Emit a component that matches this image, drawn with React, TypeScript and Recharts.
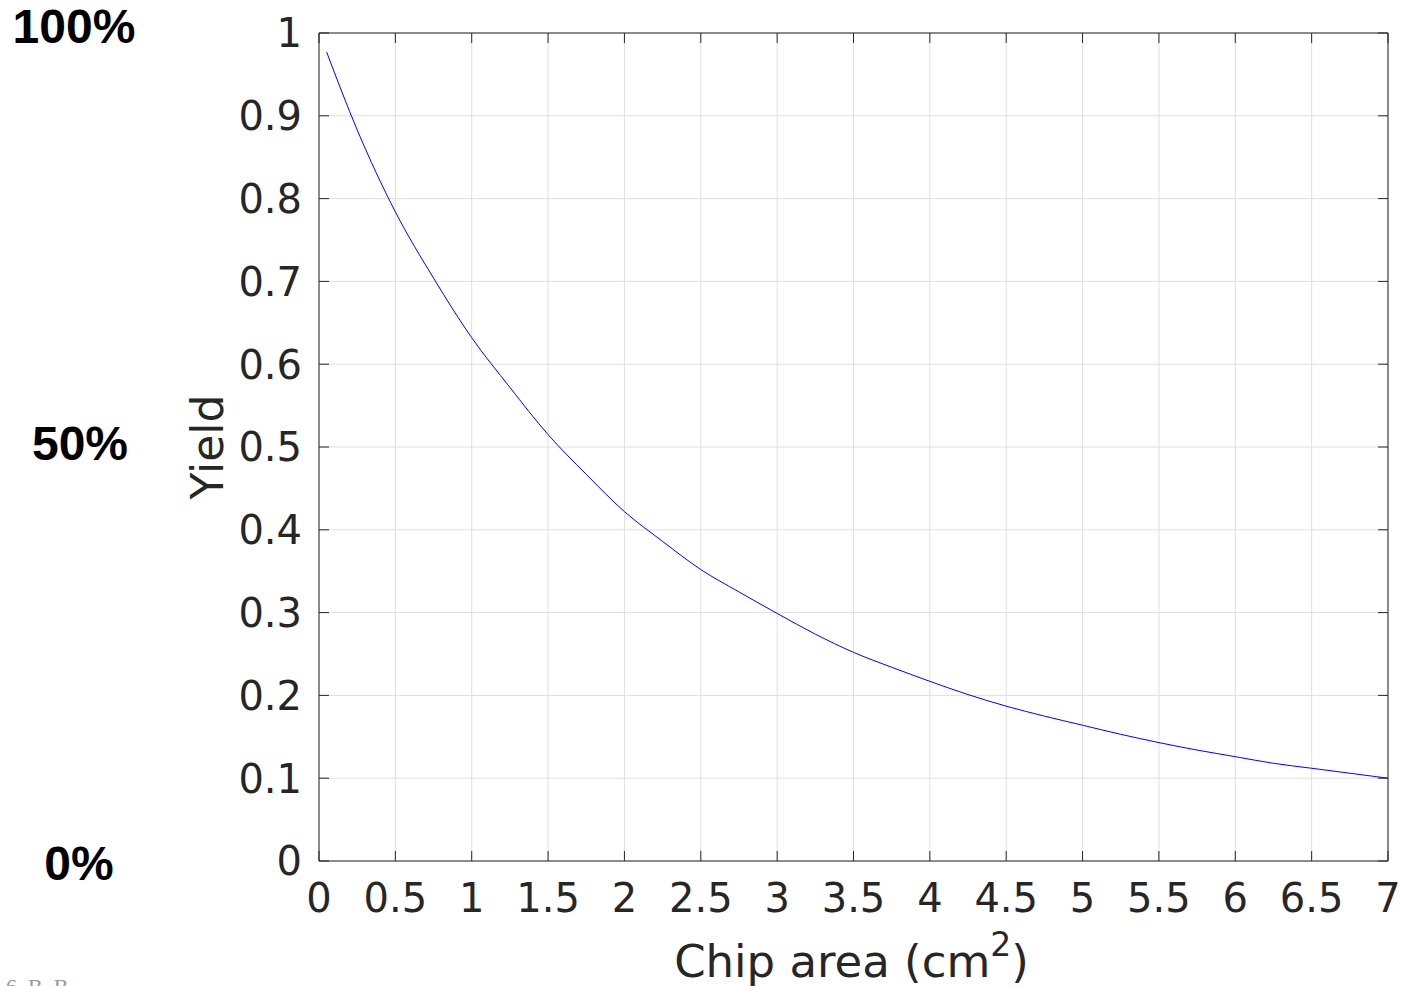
import React from "react";
import { LineChart, Line, XAxis, YAxis, CartesianGrid, ReferenceLine } from "recharts";

// chip area (cm^2) and yield
const areaValues = [
  0.05, 0.25, 0.5, 0.75, 1, 1.25, 1.5, 1.75, 2, 2.25, 2.5, 2.75, 3, 3.25, 3.5,
  3.75, 4, 4.25, 4.5, 4.75, 5, 5.25, 5.5, 5.75, 6, 6.25, 6.5, 6.75, 7,
];
const yieldValues = [
  0.977, 0.883, 0.784, 0.704, 0.632, 0.572, 0.515, 0.467, 0.422, 0.386, 0.352,
  0.325, 0.299, 0.274, 0.252, 0.234, 0.217, 0.201, 0.187, 0.175, 0.164, 0.153,
  0.143, 0.134, 0.126, 0.118, 0.112, 0.106, 0.1,
];
const xTicks = [0, 0.5, 1, 1.5, 2, 2.5, 3, 3.5, 4, 4.5, 5, 5.5, 6, 6.5, 7];
const yTicks = [0, 0.1, 0.2, 0.3, 0.4, 0.5, 0.6, 0.7, 0.8, 0.9, 1];
const percentTexts = ["100%", "50%", "0%"];
const percentValues = [1, 0.5, 0];

const data = areaValues.map((a, i) => ({ area: a, yield: yieldValues[i] }));

const AXIS = "#262626";
const FONT = "DejaVu Sans";
const TICK_LEN = 10;

const W = 1402;
const H = 986;
const plotLeft = 319;
const plotRight = 1388;
const plotTop = 33;
const plotBottom = 861;

// little nudges so the bold side labels sit like the original
const percentStyle = [
  { cx: 74, dy: 10 },
  { cx: 80, dy: 13 },
  { cx: 79, dy: 19 },
];

function BottomTick(props: any) {
  const { x, y, payload } = props;
  const top = y - (plotBottom - plotTop);
  return (
    <g>
      <line x1={x} y1={y} x2={x} y2={y - TICK_LEN} stroke={AXIS} />
      <line x1={x} y1={top} x2={x} y2={top + TICK_LEN} stroke={AXIS} />
      <text x={x} y={y + 51} textAnchor="middle" fill={AXIS} fontSize={40} fontFamily={FONT}>
        {payload.value}
      </text>
    </g>
  );
}

function LeftTick(props: any) {
  const { x, y, payload } = props;
  const right = x + (plotRight - plotLeft);
  return (
    <g>
      <line x1={x} y1={y} x2={x + TICK_LEN} y2={y} stroke={AXIS} />
      <line x1={right} y1={y} x2={right - TICK_LEN} y2={y} stroke={AXIS} />
      <text x={x - 17} y={y} dy="0.36em" textAnchor="end" fill={AXIS} fontSize={40} fontFamily={FONT}>
        {payload.value}
      </text>
    </g>
  );
}

function XTitle(props: any) {
  const vb = props.viewBox || { x: plotLeft, y: plotBottom, width: plotRight - plotLeft };
  const cx = vb.x + vb.width / 2 - 2;
  return (
    <text x={cx} y={vb.y + 116} textAnchor="middle" fill={AXIS} fontSize={45} fontFamily={FONT}>
      Chip area (cm
      <tspan fontSize={33} dy={-21}>2</tspan>
      <tspan dy={21}>)</tspan>
    </text>
  );
}

function YTitle(props: any) {
  const vb = props.viewBox || { x: 0, y: plotTop, width: plotLeft, height: plotBottom - plotTop };
  const cx = vb.x + vb.width - 96;
  const cy = vb.y + vb.height / 2;
  return (
    <text
      x={cx}
      y={cy}
      transform={`rotate(-90 ${cx} ${cy})`}
      textAnchor="middle"
      fill={AXIS}
      fontSize={44}
      fontFamily={FONT}
    >
      Yield
    </text>
  );
}

export default function App() {
  const yPos = (v: number) => plotBottom - v * (plotBottom - plotTop);
  return (
    <div style={{ position: "absolute", left: 0, top: 0, width: W, height: H, overflow: "hidden", background: "#fff" }}>
      <LineChart
        width={W}
        height={H}
        data={data}
        margin={{ top: plotTop, right: W - plotRight, left: 0, bottom: 0 }}
      >
        <CartesianGrid stroke="#dfdfdf" />
        <XAxis
          dataKey="area"
          type="number"
          domain={[0, 7]}
          ticks={xTicks}
          interval={0}
          height={H - plotBottom}
          tickSize={0}
          tickMargin={0}
          tickLine={false}
          axisLine={{ stroke: AXIS }}
          tick={(p: any) => <BottomTick {...p} />}
          label={{ content: (p: any) => <XTitle {...p} /> }}
        />
        <YAxis
          type="number"
          domain={[0, 1]}
          ticks={yTicks}
          interval={0}
          width={plotLeft}
          tickSize={0}
          tickMargin={0}
          tickLine={false}
          axisLine={{ stroke: AXIS }}
          tick={(p: any) => <LeftTick {...p} />}
          label={{ content: (p: any) => <YTitle {...p} /> }}
        />
        <ReferenceLine y={1} stroke={AXIS} strokeWidth={1} />
        <ReferenceLine x={7} stroke={AXIS} strokeWidth={1} />
        <Line
          type="monotone"
          dataKey="yield"
          stroke="#0000ff"
          strokeWidth={1}
          dot={false}
          isAnimationActive={false}
        />
      </LineChart>
      <svg width={W} height={H} style={{ position: "absolute", left: 0, top: 0, pointerEvents: "none" }}>
        {percentTexts.map((t, i) => (
          <text
            key={t}
            x={percentStyle[i].cx}
            y={yPos(percentValues[i]) + percentStyle[i].dy}
            textAnchor="middle"
            fontFamily="Liberation Sans, Arial"
            fontWeight="bold"
            fontSize={48}
            fill="#000"
          >
            {t}
          </text>
        ))}
        <text x={6} y={994} fontFamily="Liberation Serif" fontSize={22} fill="#9a9a9a">
          6. B. B
        </text>
      </svg>
    </div>
  );
}
